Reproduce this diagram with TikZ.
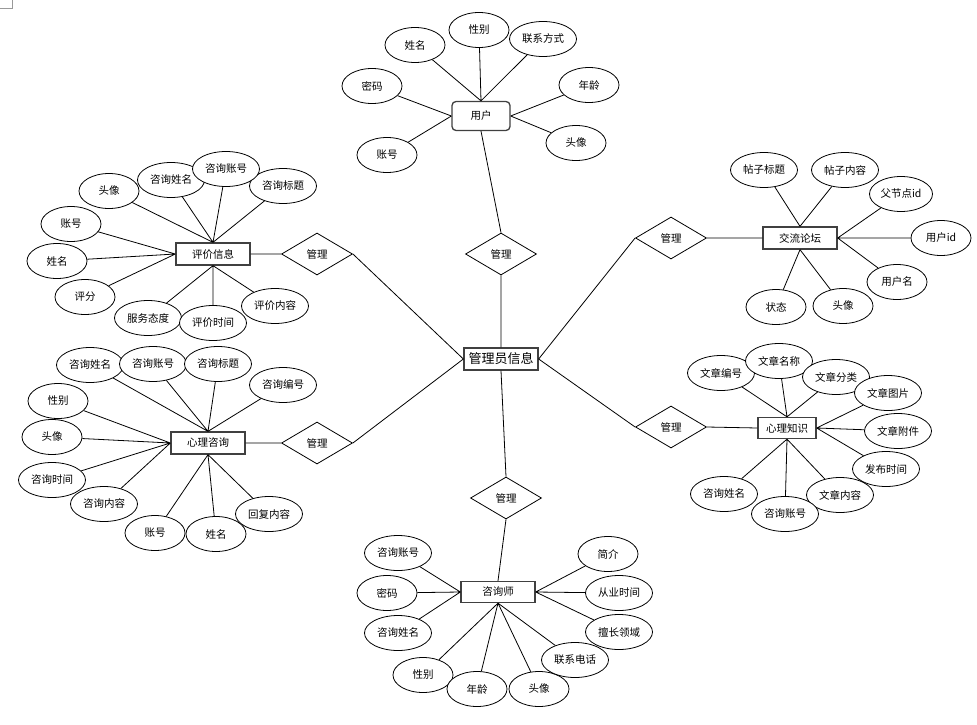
\documentclass[tikz,border=0pt]{standalone}
\usepackage{fontspec}
\setmainfont{Noto Sans CJK SC}
\usetikzlibrary{shapes.geometric}
\tikzset{
	attr/.style={ellipse, draw=black, line width=0.8pt, fill=white, inner sep=0pt, minimum width=60pt, minimum height=35pt, font=\fontsize{10.5}{12}\selectfont},
	attrw/.style={attr, minimum width=67pt},
	ent/.style={rectangle, draw=black!75, line width=1.3pt, fill=white, inner sep=0pt, minimum width=74pt, minimum height=22pt, font=\fontsize{10.5}{12}\selectfont},
	rel/.style={diamond, draw=black, line width=0.8pt, fill=white, inner sep=0pt, minimum width=71pt, minimum height=42pt, font=\fontsize{10.5}{12}\selectfont},
	link/.style={line width=0.8pt}
}
\begin{document}
\begin{tikzpicture}[x=1pt, y=-1pt]
			%%%%% START %%%%%
			
			\useasboundingbox (0, 0) rectangle (977, 725);
			\draw[color=black!40, line width=0.8pt] (0, 8) -- (12, 8) -- (12, 0);
			
			\node[ent, minimum height=22pt, font=\fontsize{13}{15}\selectfont] (gly) at (501, 359) {管理员信息};
			
			\node[rel] (gl1) at (501, 254) {管理};
			\node[rel] (gl2) at (317, 254) {管理};
			\node[rel] (gl3) at (317, 443) {管理};
			\node[rel] (gl4) at (671, 238) {管理};
			\node[rel] (gl5) at (671, 427) {管理};
			\node[rel] (gl6) at (506, 498) {管理};
			
			%%%%% 用户 %%%%%
			\node[ent, rounded corners=4pt, minimum width=58pt, minimum height=29pt] (yh) at (481, 116) {用户};
			\node[attr] (yh1) at (415, 45) {姓名};
			\node[attr] (yh2) at (479, 30) {性别};
			\node[attrw] (yh3) at (543, 39) {联系方式};
			\node[attr] (yh4) at (372, 86) {密码};
			\node[attr] (yh5) at (589, 85) {年龄};
			\node[attr] (yh6) at (387, 155) {账号};
			\node[attr] (yh7) at (576, 143) {头像};
			
			%%%%% 评价信息 %%%%%
			\node[ent] (pj) at (213, 254) {评价信息};
			\node[attr] (pj1) at (109, 191) {头像};
			\node[attrw] (pj2) at (171, 180) {咨询姓名};
			\node[attrw] (pj4) at (283, 186) {咨询标题};
			\node[attrw] (pj3) at (226, 169) {咨询账号};
			\node[attr] (pj5) at (71, 224) {账号};
			\node[attr] (pj6) at (57, 261) {姓名};
			\node[attr] (pj7) at (85, 297) {评分};
			\node[attrw] (pj8) at (148, 318) {服务态度};
			\node[attrw] (pj9) at (213, 323) {评价时间};
			\node[attrw] (pj10) at (275, 306) {评价内容};
			
			%%%%% 心理咨询 %%%%%
			\node[ent] (zx) at (208, 443) {心理咨询};
			\node[attrw] (zx1) at (90, 365) {咨询姓名};
			\node[attrw] (zx2) at (153, 364) {咨询账号};
			\node[attrw] (zx3) at (218, 364) {咨询标题};
			\node[attrw] (zx4) at (283, 385) {咨询编号};
			\node[attr] (zx5) at (58, 401) {性别};
			\node[attr] (zx6) at (52, 437) {头像};
			\node[attrw] (zx7) at (52, 480) {咨询时间};
			\node[attrw] (zx8) at (104, 504) {咨询内容};
			\node[attr] (zx9) at (155, 533) {账号};
			\node[attr] (zx10) at (216, 534) {姓名};
			\node[attrw] (zx11) at (269, 514) {回复内容};
			
			%%%%% 交流论坛 %%%%%
			\node[ent] (jl) at (800, 238) {交流论坛};
			\node[attrw] (jl1) at (764, 170) {帖子标题};
			\node[attrw] (jl2) at (845, 170) {帖子内容};
			\node[attr, minimum width=63pt] (jl3) at (901, 194) {父节点id};
			\node[attr] (jl4) at (941, 238) {用户id};
			\node[attr] (jl5) at (897, 282) {用户名};
			\node[attr] (jl6) at (776, 307) {状态};
			\node[attr] (jl7) at (843, 306) {头像};
			
			%%%%% 心理知识 %%%%%
			\node[ent, minimum width=58pt, minimum height=21pt] (zs) at (787, 428) {心理知识};
			\node[attrw] (zs1) at (721, 373) {文章编号};
			\node[attrw] (zs2) at (779, 361) {文章名称};
			\node[attrw] (zs3) at (836, 377) {文章分类};
			\node[attrw] (zs4) at (888, 393) {文章图片};
			\node[attrw] (zs5) at (898, 431) {文章附件};
			\node[attrw] (zs6) at (886, 469) {发布时间};
			\node[attrw] (zs7) at (840, 495) {文章内容};
			\node[attrw] (zs9) at (724, 494) {咨询姓名};
			\node[attrw] (zs8) at (785, 514) {咨询账号};
			
			%%%%% 咨询师 %%%%%
			\node[ent, minimum height=21pt] (zxs) at (498, 592) {咨询师};
			\node[attrw] (zxs1) at (398, 553) {咨询账号};
			\node[attr] (zxs2) at (387, 593) {密码};
			\node[attrw] (zxs3) at (398, 633) {咨询姓名};
			\node[attr] (zxs4) at (423, 675) {性别};
			\node[attr] (zxs5) at (477, 689) {年龄};
			\node[attr] (zxs6) at (539, 689) {头像};
			\node[attrw] (zxs7) at (575, 660) {联系电话};
			\node[attr] (zxs8) at (608, 554) {简介};
			\node[attrw] (zxs9) at (619, 593) {从业时间};
			\node[attrw] (zxs10) at (619, 632) {擅长领域};
			
			%%%%% links %%%%%
			\draw[link] (yh.south) -- (gl1.north) (gl1.south) -- (gly.north);
			\draw[link] (gly.west) -- (gl2.east) (gl2.west) -- (pj.east);
			\draw[link] (gly.west) -- (gl3.east) (gl3.west) -- (zx.east);
			\draw[link] (gly.east) -- (gl4.west) (gl4.east) -- (jl.west);
			\draw[link] (gly.east) -- (gl5.west) (gl5.east) -- (zs.west);
			\draw[link] (gly.south) -- (gl6.north) (gl6.south) -- (zxs.north);
			
			\draw[link] (yh.north) -- (yh1) (yh.north) -- (yh2) (yh.north) -- (yh3);
			\draw[link] (yh.west) -- (yh4) (yh.west) -- (yh6);
			\draw[link] (yh.east) -- (yh5) (yh.east) -- (yh7);
			
			\draw[link] (pj.north) -- (pj1) (pj.north) -- (pj2) (pj.north) -- (pj3) (pj.north) -- (pj4);
			\draw[link] (pj.west) -- (pj5) (pj.west) -- (pj6) (pj.west) -- (pj7);
			\draw[link] (pj.south) -- (pj8) (pj.south) -- (pj9) (pj.south) -- (pj10);
			
			\draw[link] (zx.north) -- (zx1) (zx.north) -- (zx2) (zx.north) -- (zx3) (zx.north) -- (zx4);
			\draw[link] (zx.west) -- (zx5) (zx.west) -- (zx6) (zx.west) -- (zx7) (zx.west) -- (zx8);
			\draw[link] (zx.south) -- (zx9) (zx.south) -- (zx10) (zx.south) -- (zx11);
			
			\draw[link] (jl.north) -- (jl1) (jl.north) -- (jl2);
			\draw[link] (jl.east) -- (jl3) (jl.east) -- (jl4) (jl.east) -- (jl5);
			\draw[link] (jl.south) -- (jl6) (jl.south) -- (jl7);
			
			\draw[link] (zs.north) -- (zs1) (zs.north) -- (zs2) (zs.north) -- (zs3);
			\draw[link] (zs.east) -- (zs4) (zs.east) -- (zs5) (zs.east) -- (zs6);
			\draw[link] (zs.south) -- (zs7) (zs.south) -- (zs8) (zs.south) -- (zs9);
			
			\draw[link] (zxs.west) -- (zxs1) (zxs.west) -- (zxs2) (zxs.west) -- (zxs3);
			\draw[link] (zxs.south) -- (zxs4) (zxs.south) -- (zxs5) (zxs.south) -- (zxs6) (zxs.south) -- (zxs7);
			\draw[link] (zxs.east) -- (zxs8) (zxs.east) -- (zxs9) (zxs.east) -- (zxs10);
			
			%%%%% END %%%%%
\end{tikzpicture}
\end{document}
